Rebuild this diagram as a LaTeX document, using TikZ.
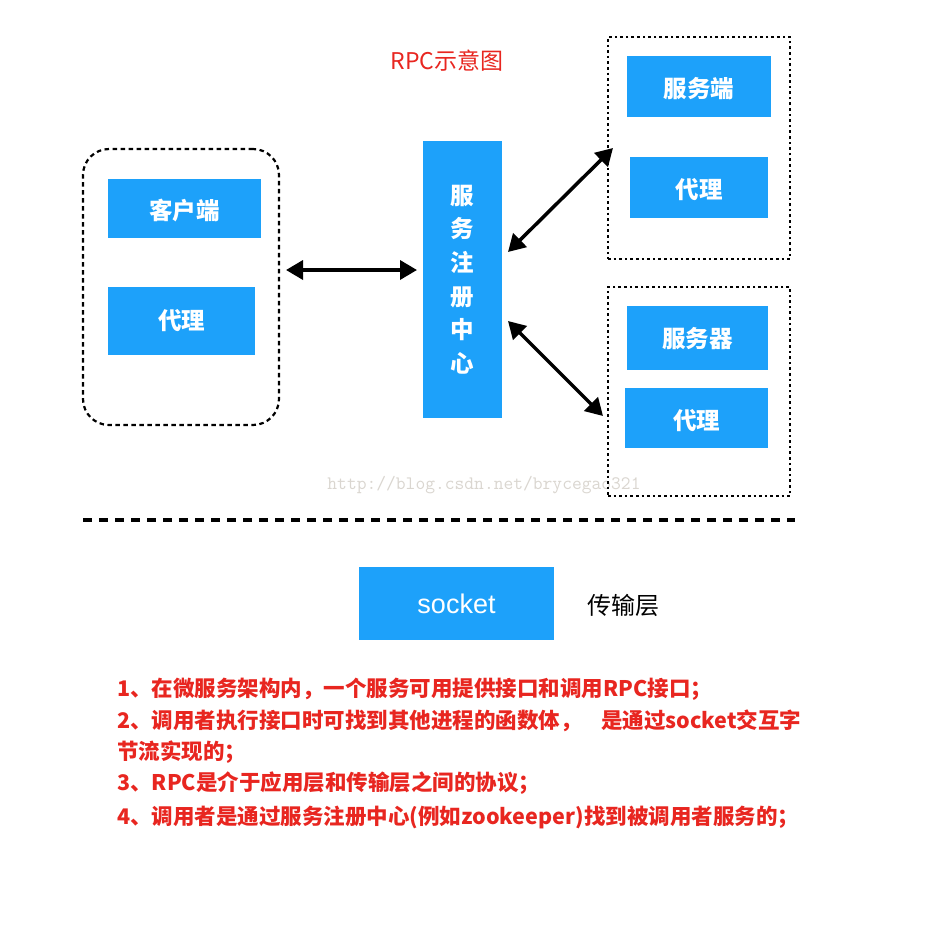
\documentclass[tikz,border=0pt]{standalone}
\usepackage{fontspec}
\setmainfont{Liberation Sans}
\newfontfamily\cjk{Noto Sans CJK SC}
\usetikzlibrary{arrows.meta}
\definecolor{boxblue}{RGB}{29,161,250}
\definecolor{notered}{RGB}{232,38,32}
\definecolor{wm}{RGB}{218,214,208}
\newcommand{\lowtext}[2][2.5pt]{\raisebox{-#1}[\height][\depth]{#2}}
\begin{document}
\begin{tikzpicture}[x=1pt,y=-1pt,
  bluebox/.style={fill=boxblue, text=white, inner sep=0pt, outer sep=0pt, font={\cjk\bfseries\fontsize{23.5}{28}\selectfont}},
  dotgroup/.style={draw=black, line width=2.4pt, dash pattern=on 2.6pt off 3pt, inner sep=0pt, outer sep=0pt},
  dashgroup/.style={draw=black, line width=2.2pt, dash pattern=on 4.5pt off 3.5pt, rounded corners=26pt, inner sep=0pt, outer sep=0pt},
  conn/.style={line width=3.5pt, {Triangle[length=17pt,width=19pt]}-{Triangle[length=17pt,width=19pt]}},
  note/.style={anchor=base west, text=notered, inner sep=0pt, font={\cjk\bfseries\fontsize{21.5}{26}\selectfont}}
]
\fill[white] (0,0) rectangle (946,950);
\useasboundingbox (0,0) rectangle (946,950);

% title
\node[text=notered, font={\cjk\fontsize{23}{28}\selectfont}] (title) at (447,61) {RPC示意图};

% watermark
\node[text=wm, font={\ttfamily\fontsize{19}{22}\selectfont}] (wmk) at (484,485) {http://blog.csdn.net/brycegao321};

% groups
\node[dashgroup, minimum width=196pt, minimum height=276pt] (clientgroup) at (181,287) {};
\node[dotgroup, minimum width=182pt, minimum height=222pt] (group2) at (699,148) {};
\node[dotgroup, minimum width=182pt, minimum height=209pt] (group3) at (699,391.5) {};

% boxes
\node[bluebox, minimum width=153pt, minimum height=59pt] (client) at (184.5,208.5) {\lowtext{客户端}};
\node[bluebox, minimum width=147pt, minimum height=68pt] (cproxy) at (181.5,321) {代理};
\node[bluebox, minimum width=79pt, minimum height=277pt, align=center,
      font={\cjk\bfseries\fontsize{23.5}{33.6}\selectfont}] (registry) at (462.5,279.5) {服\\务\\注\\册\\中\\心};
\node[bluebox, minimum width=144pt, minimum height=61pt] (server1) at (699,86.5) {\lowtext{服务端}};
\node[bluebox, minimum width=138pt, minimum height=61pt] (sproxy1) at (699,187.5) {\lowtext{代理}};
\node[bluebox, minimum width=141pt, minimum height=64pt] (server2) at (697.5,338) {\lowtext[1pt]{服务器}};
\node[bluebox, minimum width=143pt, minimum height=60pt] (sproxy2) at (696.5,418) {\lowtext{代理}};

% connectors
\draw[conn] ([shift={(7,-17)}]clientgroup.east) -- ([shift={(-6,-9.5)}]registry.west);
\draw[conn] ([shift={(6,-27.5)}]registry.east) -- ([shift={(5,0)}]group2.west);
\draw[conn] ([shift={(6,41.5)}]registry.east) -- ([shift={(-5,24.5)}]group3.west);

% separator
\coordinate (sepL) at (83,520);
\coordinate (sepR) at (795,520);
\draw[line width=4pt, dash pattern=on 9pt off 7pt] (sepL) -- (sepR);

% transport layer
\node[bluebox, font={\fontsize{27}{30}\selectfont}, minimum width=195pt, minimum height=73pt] (socket) at (456.5,603.5) {socket};
\node[font={\cjk\fontsize{24}{28}\selectfont}] (layer) at (623,605) {传输层};

% notes
\node[note] (n1) at (117,696) {1、在微服务架构内，一个服务可用提供接口和调用RPC接口；};
\node[note] (n2) at (117,728) {2、调用者执行接口时可找到其他进程的函数体，\hspace{0.9em}是通过socket交互字};
\node[note] (n3) at (117,759) {节流实现的；};
\node[note] (n4) at (117,790) {3、RPC是介于应用层和传输层之间的协议；};
\node[note] (n5) at (117,824) {4、调用者是通过服务注册中心(例如zookeeper)找到被调用者服务的；};
\end{tikzpicture}
\end{document}
